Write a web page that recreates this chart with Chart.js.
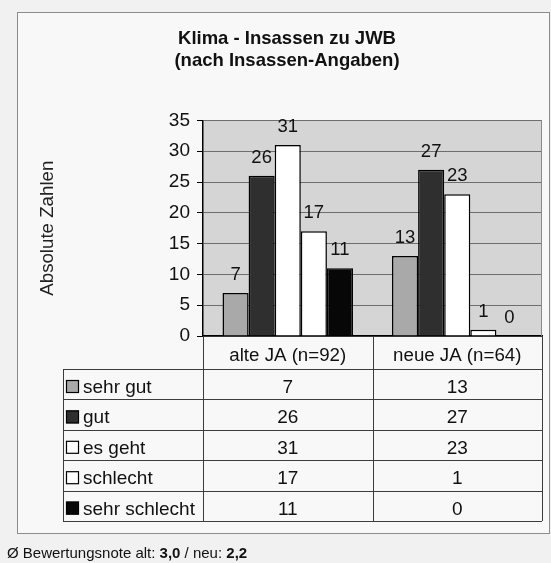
<!DOCTYPE html>
<html><head><meta charset="utf-8">
<script src="https://cdn.jsdelivr.net/npm/chart.js@4/dist/chart.umd.min.js"></script>
<style>
html,body{margin:0;padding:0;background:#f1f1f1;}
#wrap{position:relative;width:551px;height:563px;}
</style></head><body>
<div id="wrap"><canvas id="c"></canvas></div>
<script>
const categories = ['alte JA (n=92)', 'neue JA (n=64)'];
const seriesNames = ['sehr gut', 'gut', 'es geht', 'schlecht', 'sehr schlecht'];
const sehrGut = [7, 13];
const gut = [26, 27];
const esGeht = [31, 23];
const schlecht = [17, 1];
const sehrSchlecht = [11, 0];
const yTicks = [0, 5, 10, 15, 20, 25, 30, 35];
const titleLines = ['Klima - Insassen zu JWB', '(nach Insassen-Angaben)'];
const yTitle = 'Absolute Zahlen';
const footerParts = [['Ø Bewertungsnote alt: ', false], ['3,0', true], [' / neu: ', false], ['2,2', true]];

const seriesValues = [sehrGut, gut, esGeht, schlecht, sehrSchlecht];
const fills = ['#a9a9a9', '#2f2f2f', '#ffffff', '#ffffff', '#070707'];
const FONT = "'Liberation Sans', Arial, sans-serif";

const bgPlugin = {
  id: 'bg',
  beforeDraw(chart) {
    const {ctx, chartArea: a} = chart;
    ctx.save();
    ctx.fillStyle = '#f1f1f1';
    ctx.fillRect(0, 0, chart.width, chart.height);
    ctx.fillStyle = '#f8f8f8';
    ctx.fillRect(17, 12, 532, 521);
    ctx.strokeStyle = '#8c8c8c';
    ctx.lineWidth = 1;
    ctx.strokeRect(17.5, 12.5, 532, 521);
    ctx.fillStyle = '#d5d5d5';
    ctx.fillRect(a.left, a.top, a.right - a.left, a.bottom - a.top);
    ctx.restore();
  }
};

const labelPlugin = {
  id: 'vals',
  afterDatasetsDraw(chart) {
    const {ctx} = chart;
    ctx.save();
    ctx.font = '18.5px ' + FONT;
    ctx.fillStyle = '#111';
    ctx.textAlign = 'center';
    ctx.textBaseline = 'alphabetic';
    chart.data.datasets.forEach((ds, i) => {
      chart.getDatasetMeta(i).data.forEach((bar, j) => {
        ctx.fillText(String(ds.data[j]), bar.x, bar.y - 13);
      });
    });
    ctx.restore();
  }
};

const tablePlugin = {
  id: 'table',
  afterDraw(chart) {
    const {ctx, chartArea: a, scales: {x}} = chart;
    const tl = 63, rowTop = 369, rowH = 30.4, n = seriesNames.length;
    const mid = (x.getPixelForValue(0) + x.getPixelForValue(1)) / 2;
    const cols = [a.left, mid, a.right];
    const bottom = rowTop + n * rowH;
    ctx.save();
    // plot right border
    ctx.strokeStyle = '#8a8a8a';
    ctx.lineWidth = 1;
    ctx.beginPath();
    ctx.moveTo(Math.round(a.right) - 0.5, a.top);
    ctx.lineTo(Math.round(a.right) - 0.5, a.bottom);
    ctx.stroke();
    // table grid
    ctx.strokeStyle = '#3c3c3c';
    ctx.lineWidth = 1;
    ctx.beginPath();
    cols.forEach(cx => {
      const px = Math.round(cx) + 0.5;
      ctx.moveTo(px, a.bottom); ctx.lineTo(px, bottom);
    });
    ctx.moveTo(tl + 0.5, rowTop); ctx.lineTo(tl + 0.5, bottom);
    for (let i = 0; i <= n; i++) {
      const y = Math.round(rowTop + i * rowH) + 0.5;
      ctx.moveTo(tl, y); ctx.lineTo(a.right, y);
    }
    ctx.stroke();
    // rows
    ctx.font = '19px ' + FONT;
    ctx.textBaseline = 'alphabetic';
    seriesNames.forEach((name, i) => {
      const top = rowTop + i * rowH;
      const base = top + 24;
      ctx.fillStyle = fills[i];
      ctx.fillRect(66, base - 13, 13, 13);
      ctx.strokeStyle = '#000';
      ctx.lineWidth = 1.2;
      ctx.strokeRect(66.5, base - 12.5, 12, 12);
      ctx.fillStyle = '#111';
      ctx.textAlign = 'left';
      ctx.fillText(name, 83, base);
      ctx.textAlign = 'center';
      seriesValues[i].forEach((v, j) => {
        ctx.fillText(String(v), x.getPixelForValue(j), base);
      });
    });
    // footer
    let fx = 7;
    footerParts.forEach(([t, b]) => {
      ctx.font = (b ? 'bold ' : '') + '15px ' + FONT;
      ctx.textAlign = 'left';
      ctx.fillStyle = '#111';
      ctx.fillText(t, fx, 558);
      fx += ctx.measureText(t).width;
    });
    ctx.restore();
  }
};

new Chart(document.getElementById('c'), {
  type: 'bar',
  data: {
    labels: categories,
    datasets: seriesNames.map((name, i) => ({
      label: name,
      data: seriesValues[i],
      backgroundColor: fills[i],
      borderColor: '#000',
      borderWidth: 1.5,
      barPercentage: 1,
      categoryPercentage: 0.77
    }))
  },
  options: {
    responsive: true,
    maintainAspectRatio: false,
    animation: false,
    layout: {padding: {left: 32, right: 9, top: 0, bottom: 0}},
    plugins: {
      legend: {display: false},
      tooltip: {enabled: false},
      title: {
        display: true,
        text: titleLines,
        color: '#111',
        font: {family: FONT, size: 18.5, weight: 'bold', lineHeight: 1.2},
        padding: {top: 28, bottom: 48}
      }
    },
    scales: {
      x: {
        grid: {display: false},
        border: {display: true, color: '#000', width: 1.5},
        ticks: {font: {family: FONT, size: 18.7}, color: '#111', padding: 1, maxRotation: 0, autoSkip: false},
        afterFit(s) { s.height = 227; }
      },
      y: {
        min: 0, max: 35,
        afterBuildTicks(s) { s.ticks = yTicks.map(v => ({value: v})); },
        grid: {color: '#6e6e6e', lineWidth: 1, tickLength: 6, tickColor: '#000'},
        border: {color: '#000', width: 1.5},
        ticks: {font: {family: FONT, size: 19}, color: '#111', padding: 7},
        title: {display: true, text: yTitle, color: '#222', font: {family: FONT, size: 18.7}, padding: {top: 5, bottom: 0}},
        afterFit(s) { s.width = 171; }
      }
    }
  },
  plugins: [bgPlugin, labelPlugin, tablePlugin]
});
</script>
</body></html>
